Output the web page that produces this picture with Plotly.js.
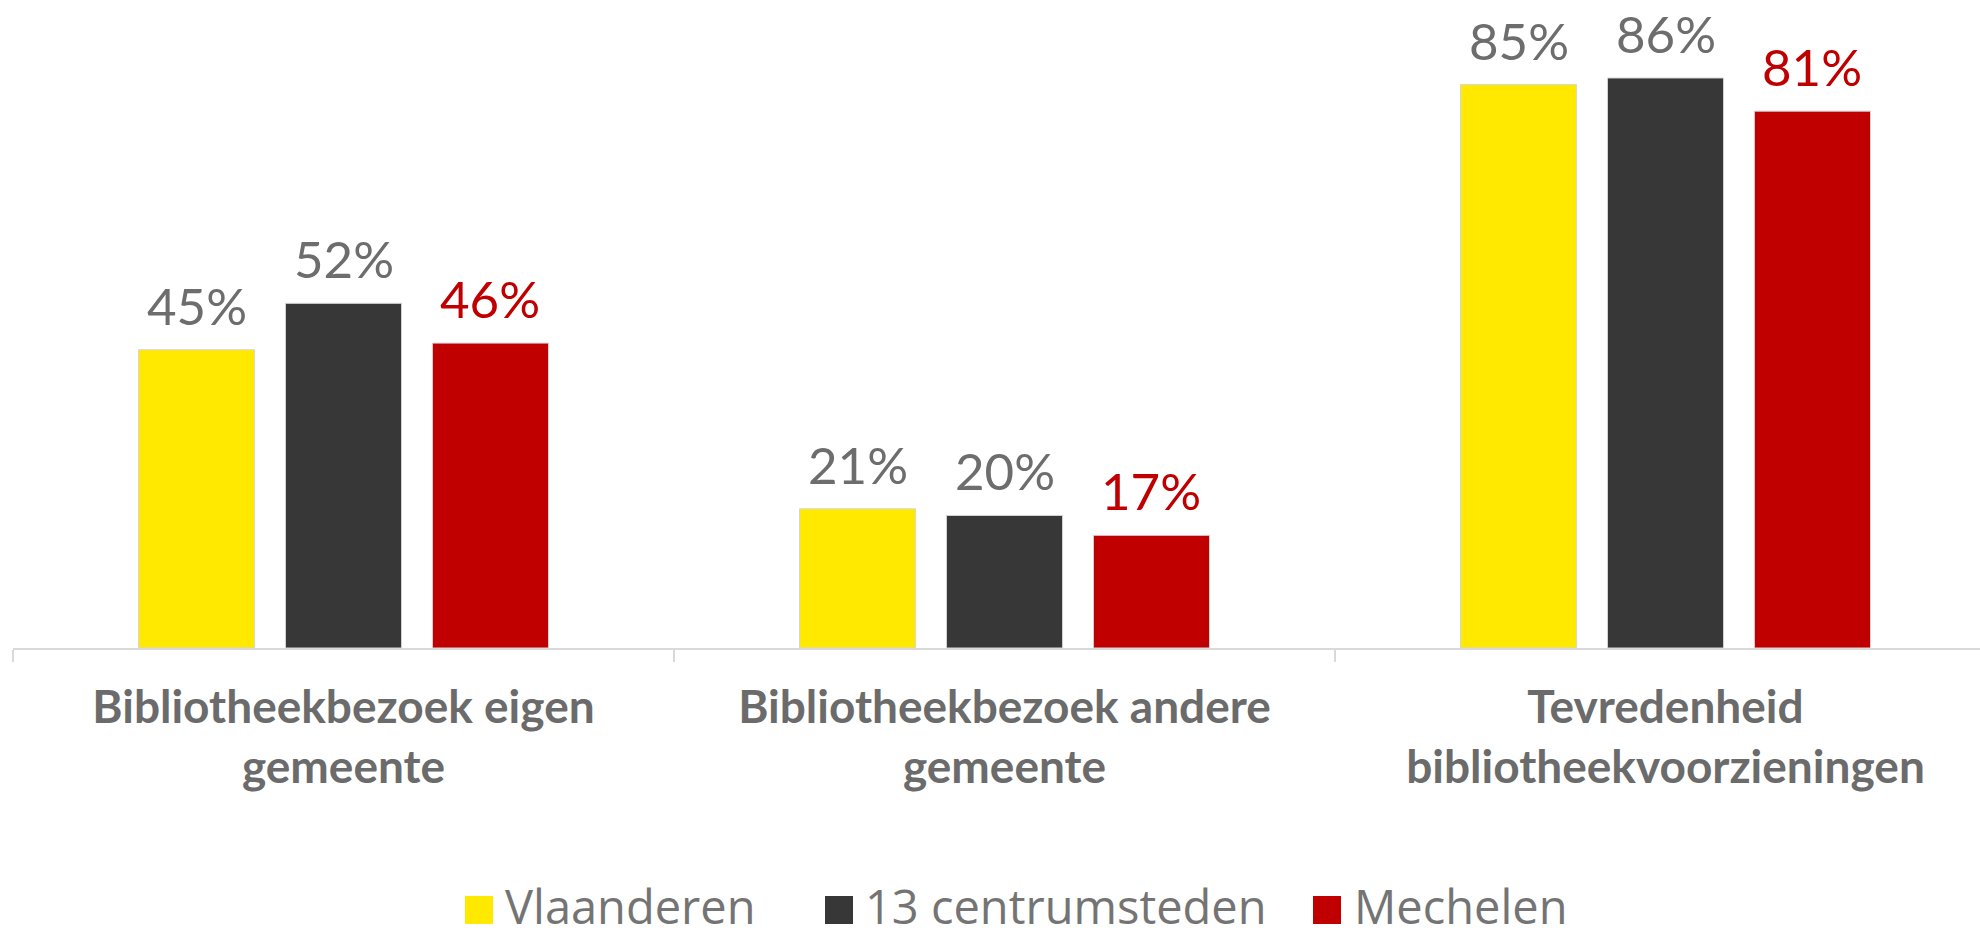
<!DOCTYPE html>
<html>
<head>
<meta charset="utf-8">
<script src="https://cdn.plot.ly/plotly-3.0.1.min.js"></script>
<style>html,body{margin:0;padding:0;background:#fff;}#chart{width:1980px;height:940px;}</style>
</head>
<body>
<div id="chart"></div>
<script>
const categories = ['Bibliotheekbezoek eigen<br>gemeente', 'Bibliotheekbezoek andere<br>gemeente', 'Tevredenheid<br>bibliotheekvoorzieningen'];
const seriesNames = ['Vlaanderen', '13 centrumsteden', 'Mechelen'];
const vlaanderen = [45, 21, 85];
const centrumsteden = [52, 20, 86];
const mechelen = [46, 17, 81];
const seriesValues = [vlaanderen, centrumsteden, mechelen];
const barColors = ['#ffe900', '#373737', '#c00000'];
const labelColors = ['#6d6d6d', '#6d6d6d', '#c00000'];

const W = 1980, H = 940;
const M = {l: 13, r: 0, t: 20, b: 292};
const plotW = W - M.l - M.r, plotH = H - M.t - M.b;
const catPx = 661;
const bargap = 0.333, bargroupgap = 0.21;
const slot = (1 - bargap) / 3;

const traces = seriesNames.map((name, j) => ({
  type: 'bar',
  name: name,
  x: categories,
  y: seriesValues[j],
  marker: {color: barColors[j], line: {color: '#d6d6d6', width: 1}},
  showlegend: false,
  hoverinfo: 'none'
}));

const annotations = [];
seriesNames.forEach((name, j) => {
  seriesValues[j].forEach((v, i) => {
    annotations.push({
      x: i + (j - 1) * slot, y: v, xref: 'x', yref: 'y',
      text: v + '%', showarrow: false, xanchor: 'center', yanchor: 'bottom', yshift: 12,
      font: {family: 'Lato, "Open Sans", sans-serif', size: 51, color: labelColors[j]}
    });
  });
});

const px2x = px => (px - M.l) / plotW;
const px2y = py => (H - M.b - py) / plotH;
const legendSquares = [465, 825, 1313];
const legendTexts = [503, 863, 1352];
const shapes = [];
seriesNames.forEach((name, j) => {
  shapes.push({type: 'rect', xref: 'paper', yref: 'paper',
    x0: px2x(legendSquares[j]), x1: px2x(legendSquares[j] + 28),
    y0: px2y(924), y1: px2y(896), fillcolor: barColors[j], line: {width: 0}});
  annotations.push({xref: 'paper', yref: 'paper', x: px2x(legendTexts[j]), y: px2y(906),
    xanchor: 'left', yanchor: 'middle', showarrow: false, text: name,
    font: {family: '"Open Sans", Lato, sans-serif', size: 47, color: '#747474'}});
});

const layout = {
  width: W, height: H,
  margin: M,
  paper_bgcolor: '#ffffff', plot_bgcolor: '#ffffff',
  barmode: 'group', bargap: bargap, bargroupgap: bargroupgap,
  showlegend: false,
  xaxis: {
    type: 'category',
    range: [-0.5, -0.5 + plotW / catPx],
    showline: true, linecolor: '#d9d9d9', linewidth: 2,
    ticks: 'outside', tickson: 'boundaries', ticklen: 12, tickcolor: '#d9d9d9', tickwidth: 2,
    showgrid: false, zeroline: false,
    tickfont: {family: 'Lato, "Open Sans", sans-serif', size: 46, color: '#6b6b6b', weight: 'bold'},
    ticklabelstandoff: 18
  },
  yaxis: {
    range: [0, plotH / 6.628], visible: false, showgrid: false, zeroline: false
  },
  annotations: annotations,
  shapes: shapes
};

Plotly.newPlot('chart', traces, layout, {displayModeBar: false, staticPlot: true});
</script>
</body>
</html>
